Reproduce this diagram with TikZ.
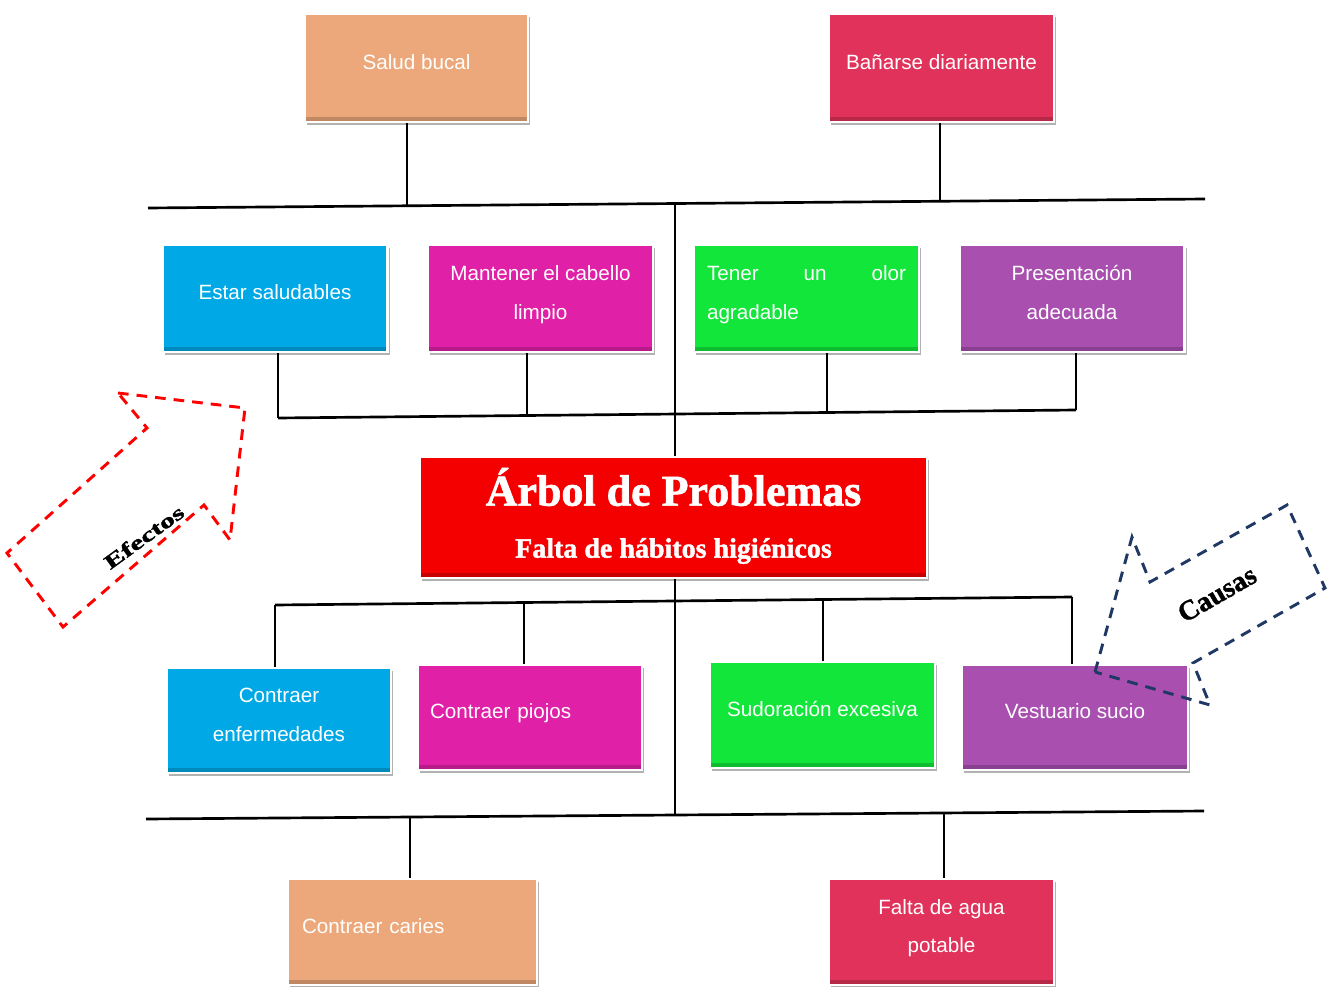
\documentclass[tikz,border=0pt]{standalone}
\usepackage{graphicx}
\usepackage{fontspec}
\setmainfont{Liberation Sans}
\newfontfamily\serifb{Liberation Serif}
\newfontfamily\heavyserif{Liberation Serif Bold}[FakeBold=1.5]
\usetikzlibrary{shadows}
\definecolor{csalmon}{HTML}{ECA87A}
\definecolor{ccrimson}{HTML}{E0325A}
\definecolor{ccyan}{HTML}{00A9E6}
\definecolor{cmagenta}{HTML}{E021A8}
\definecolor{cgreen}{HTML}{12E63A}
\definecolor{cpurple}{HTML}{A84FB0}
\definecolor{cred}{HTML}{F40000}
\definecolor{cnavy}{HTML}{1F3864}
\begin{document}
\begin{tikzpicture}[x=0.75pt,y=-0.75pt,
  conn/.style={draw=black, line width=2pt},
  box/.style={draw=white, line width=2pt, text=white, align=center, inner sep=0pt,
    text depth=9pt,
    font=\fontsize{15.5}{29}\selectfont,
    drop shadow={shadow xshift=1.5pt, shadow yshift=-2pt, opacity=0.3, fill=black},
    path picture={\fill[black,opacity=0.18] (path picture bounding box.south west) rectangle ([yshift=4pt]path picture bounding box.south east);}},
  wide/.style={minimum width=225*0.75pt, minimum height=107*0.75pt},
  efd/.style={draw=red, line width=2.2pt, dash pattern=on 8pt off 6pt},
  cad/.style={draw=cnavy, line width=2.2pt, dash pattern=on 8pt off 6pt},
  arrtext/.style={text=black}
]
\useasboundingbox (0,0) rectangle (1333,987);

% connector points
\coordinate (TL) at (148,208);
\coordinate (TR) at (1205,199);
\coordinate (t1) at (407,205.8);
\coordinate (t2) at (940,201.3);
\coordinate (t0) at (675,203.5);
\coordinate (r2a) at (278,418);
\coordinate (r2b) at (527,415.5);
\coordinate (r2c) at (827,412.5);
\coordinate (r2d) at (1076,410);
\coordinate (r3a) at (275,605);
\coordinate (r3b) at (524,602.5);
\coordinate (r3c) at (823,599.5);
\coordinate (r3d) at (1072,597);
\coordinate (BL) at (146,819);
\coordinate (BR) at (1204,811);
\coordinate (b1) at (410,817);
\coordinate (b2) at (944,813);
\coordinate (b0) at (675,815);

% boxes
\node[box, fill=csalmon, minimum width=223*0.75pt, minimum height=108*0.75pt] (sb) at (416.5,68) {Salud bucal};
\node[box, fill=ccrimson, minimum width=225*0.75pt, minimum height=108*0.75pt] (ba) at (941.5,68) {Bañarse diariamente};

\node[box, wide, fill=ccyan] (es) at (275,298.5) {Estar saludables};
\node[box, wide, fill=cmagenta] (mc) at (540.5,298.5) {Mantener el cabello\\limpio};
\node[box, wide, fill=cgreen, text width=149.25pt, align=left, text depth=38pt] (to) at (806.5,298.5) {Tener\hfill un\hfill olor\\agradable};
\node[box, wide, fill=cpurple] (pa) at (1072,298.5) {Presentación\\adecuada};

\node[box, fill=cred, minimum width=507*0.75pt, minimum height=121*0.75pt] (ap) at (673.5,517.5) {};
\node[text=white, font=\heavyserif\fontsize{33}{40}\selectfont] (apt) at (673.5,487) {Árbol de Problemas};
\node[text=white, font=\heavyserif\fontsize{21}{26}\selectfont] (aps) at (673.5,551) {Falta de hábitos higiénicos};

\node[box, minimum width=224*0.75pt, minimum height=105*0.75pt, fill=ccyan] (ce) at (279,720.5) {Contraer\\enfermedades};
\node[box, minimum width=224*0.75pt, minimum height=105*0.75pt, fill=cmagenta, text width=150pt, align=left] (cp) at (530,717.5) {Contraer piojos};
\node[box, minimum width=225*0.75pt, minimum height=106*0.75pt, fill=cgreen] (se) at (822.5,715) {Sudoración excesiva};
\node[box, minimum width=226*0.75pt, minimum height=105*0.75pt, fill=cpurple] (vs) at (1075,717.5) {Vestuario sucio};

\node[box, minimum width=249*0.75pt, minimum height=106*0.75pt, fill=csalmon, text width=165.75pt, align=left] (cc) at (412.5,932) {Contraer caries};
\node[box, minimum width=225*0.75pt, minimum height=106*0.75pt, fill=ccrimson] (fa) at (941.5,932) {Falta de agua\\potable};

% lines
\draw[conn] (TL) -- (TR);
\draw[conn] (t1 |- sb.south) -- (t1);
\draw[conn] (t2 |- ba.south) -- (t2);
\draw[conn] (t0) -- (t0 |- ap.north);
\draw[conn] (r2a) -- (r2d);
\draw[conn] (r2a |- es.south) -- (r2a);
\draw[conn] (r2b |- mc.south) -- (r2b);
\draw[conn] (r2c |- to.south) -- (r2c);
\draw[conn] (r2d |- pa.south) -- (r2d);
\draw[conn] (r3a) -- (r3d);
\draw[conn] (r3a) -- (r3a |- ce.north);
\draw[conn] (r3b) -- (r3b |- cp.north);
\draw[conn] (r3c) -- (r3c |- se.north);
\draw[conn] (r3d) -- (r3d |- vs.north);
\draw[conn] (b0 |- ap.south) -- (b0);
\draw[conn] (BL) -- (BR);
\draw[conn] (b1) -- (b1 |- cc.north);
\draw[conn] (b2) -- (b2 |- fa.north);

% Efectos arrow
\draw[efd] (118,393) -- (245,408) -- (230,540) -- (204,505) -- (63,627) -- (7,553) -- (147,428) -- cycle;
\node[arrtext, rotate=36, font=\heavyserif\fontsize{15}{15}\selectfont] (eft) at (144,537) {\scalebox{1.5}[1]{Efectos}};

% Causas arrow
\draw[cad] (1095,672) -- (1132,537) -- (1150,582) -- (1287,505) -- (1325,588) -- (1193,663) -- (1210,705) -- cycle;
\node[arrtext, rotate=30, font=\heavyserif\fontsize{21}{21}\selectfont] (cat) at (1217,594) {Causas};
\end{tikzpicture}
\end{document}
